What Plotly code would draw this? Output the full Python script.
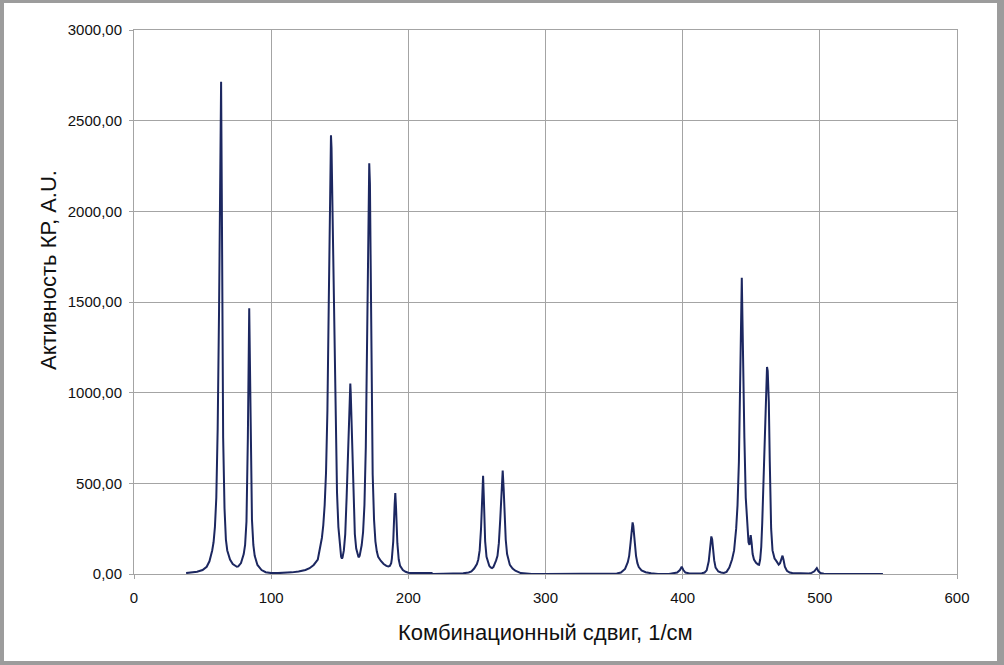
import plotly.graph_objects as go

# Raman spectrum (shift in 1/cm, activity in A.U.)
shift = [
    38, 42, 46, 50, 53, 55, 56, 57, 58, 59, 60, 61, 62, 63, 63.5, 64, 65, 66, 67, 68,
    70, 72, 74, 75, 76, 78, 80, 81, 82, 83, 84, 85, 86, 87, 88, 90, 93, 96, 100,
    105, 110, 115, 120, 125, 128, 131, 134, 136, 137, 138, 139, 140, 141, 142, 143, 143.6,
    144, 145, 146, 147, 148, 149, 150, 151, 151.6, 152, 153, 154, 155, 156, 157, 157.7,
    158, 159, 160, 161, 162, 163, 163.7, 164.5, 165, 166, 167, 168, 169, 170, 171, 171.5,
    172, 173, 174, 175, 176, 177, 178, 180, 182, 184, 185.4, 186.5, 187.5, 188, 189, 190,
    190.5, 191, 192, 193, 194, 196, 198, 200, 202, 210, 217, 218, 233, 234, 240, 244,
    246, 248, 250, 251, 252, 253, 254, 254.5, 255, 256, 257, 258, 259, 260, 261, 262,
    263, 264, 265, 266, 267, 268, 268.8, 269.5, 270, 271, 272, 273, 274, 276, 278, 282,
    286, 290, 300, 320, 340, 352, 355, 358, 360, 361, 362, 363, 363.5, 364, 365, 366,
    367, 368, 370, 373, 377, 382, 390, 394, 396, 398, 399.3, 400.5, 402, 405, 410,
    414, 416, 417.5, 419, 420, 420.9, 421.5, 422, 423, 424, 426, 428, 430, 432, 434,
    436, 437.5, 439, 440, 441, 442, 442.6, 443.1, 443.6, 444, 445, 446, 447, 448, 448.7,
    449.6, 450.3, 451, 452, 453.5, 455, 455.7, 456.5, 457.3, 458, 459, 460, 460.8, 461.5,
    462, 462.8, 463.5, 464.5, 465.5, 467, 468, 469, 470, 471, 472, 472.8, 473.5, 474.5,
    476, 478, 480, 485, 488, 490, 492, 494, 496, 497.8, 499, 500.5, 503, 510, 530, 546,
]
activity = [
    5, 8, 12, 22, 40, 70, 95, 130, 175, 260, 420, 800, 1450, 2450, 2715, 2100, 750, 360, 190, 130,
    80, 55, 42, 40, 42, 60, 110, 160, 290, 750, 1465, 700, 300, 160, 100, 50, 22, 10, 5,
    5, 6, 9, 14, 22, 32, 50, 80, 150, 200, 270, 380, 560, 900, 1500, 2200, 2420,
    2350, 1850, 1250, 800, 450, 260, 150, 95, 85, 90, 130, 220, 420, 700, 950, 1050,
    1000, 720, 380, 220, 140, 105, 92, 100, 120, 160, 230, 380, 700, 1350, 2100, 2265,
    2150, 1200, 550, 300, 180, 125, 95, 72, 55, 45, 42, 45, 60, 85, 180, 380,
    447, 370, 170, 80, 45, 22, 12, 7, 5, 5, 5, 0, 0, 3, 4, 8,
    14, 30, 55, 80, 130, 250, 440, 542, 430, 180, 95, 65, 45, 36, 33, 38,
    55, 75, 100, 170, 300, 500, 571, 470, 350, 190, 110, 75, 50, 30, 18, 5,
    2, 0, 0, 0, 0, 3, 8, 28, 65, 100, 170, 260, 285, 265, 180, 100,
    60, 38, 20, 10, 4, 0, 0, 3, 8, 22, 40, 22, 8, 3, 2,
    4, 8, 20, 70, 150, 207, 190, 150, 75, 35, 14, 8, 6, 12, 35,
    80, 130, 250, 380, 620, 1050, 1400, 1633, 1400, 1150, 750, 420, 260, 175, 160,
    215, 170, 110, 80, 62, 52, 51, 80, 150, 280, 520, 850, 1050, 1142,
    1120, 950, 620, 250, 130, 85, 75, 60, 52, 60, 85, 101, 80, 40,
    18, 8, 5, 4, 3, 6, 3, 6, 15, 33, 15, 5, 2, 0, 0, 0,
]

x_ticks = [0, 100, 200, 300, 400, 500, 600]
y_ticks = [0, 500, 1000, 1500, 2000, 2500, 3000]

x_title = "Комбинационный сдвиг, 1/см"
y_title = "Активность КР, A.U."

FONT = "Liberation Sans, Arial, sans-serif"
GRID = "#a4a4a4"

fig = go.Figure()
fig.add_trace(go.Scatter(
    x=shift, y=activity, mode="lines",
    line=dict(color="#1c2760", width=2),
    showlegend=False, hoverinfo="x+y",
))

W, H = 1004, 665
L, R, T, B = 134, 47, 30, 91
pw, ph = W - L - R, H - T - B


def px_x(p):
    return (p - L) / pw


def px_y(p):
    return (H - B - p) / ph


fig.update_layout(
    width=W, height=H,
    margin=dict(l=L, r=R, t=T, b=B, pad=0),
    paper_bgcolor="#9c9c9c",
    plot_bgcolor="white",
    separators=", ",
    font=dict(family=FONT, size=15, color="#111111"),
    shapes=[
        dict(type="rect", xref="paper", yref="paper", layer="below",
             x0=px_x(4), x1=px_x(997), y0=px_y(661), y1=px_y(3),
             fillcolor="white", line=dict(width=0)),
    ],
    annotations=[
        dict(text=x_title, xref="paper", yref="paper", x=0.5, y=px_y(632),
             xanchor="center", yanchor="middle", showarrow=False,
             font=dict(family=FONT, size=22, color="#111111")),
        dict(text=y_title, xref="paper", yref="paper", x=px_x(48), y=px_y(270),
             xanchor="center", yanchor="middle", textangle=-90, showarrow=False,
             font=dict(family=FONT, size=22, color="#111111")),
    ],
)

fig.update_xaxes(
    range=[0, 600], tickvals=x_ticks, ticktext=[str(v) for v in x_ticks],
    showgrid=True, gridcolor=GRID, gridwidth=1,
    showline=True, linecolor=GRID, linewidth=1, mirror=True,
    ticks="outside", ticklen=4, tickcolor=GRID, ticklabelstandoff=6,
    zeroline=False,
)
fig.update_yaxes(
    range=[0, 3000], tickvals=y_ticks, tickformat=".2f",
    showgrid=True, gridcolor=GRID, gridwidth=1,
    showline=True, linecolor=GRID, linewidth=1, mirror=True,
    ticks="outside", ticklen=4, tickcolor=GRID, ticklabelstandoff=4,
    zeroline=False,
)

fig.write_html("out.html", config={"displayModeBar": False},
               post_script="document.body.style.margin='0';")
